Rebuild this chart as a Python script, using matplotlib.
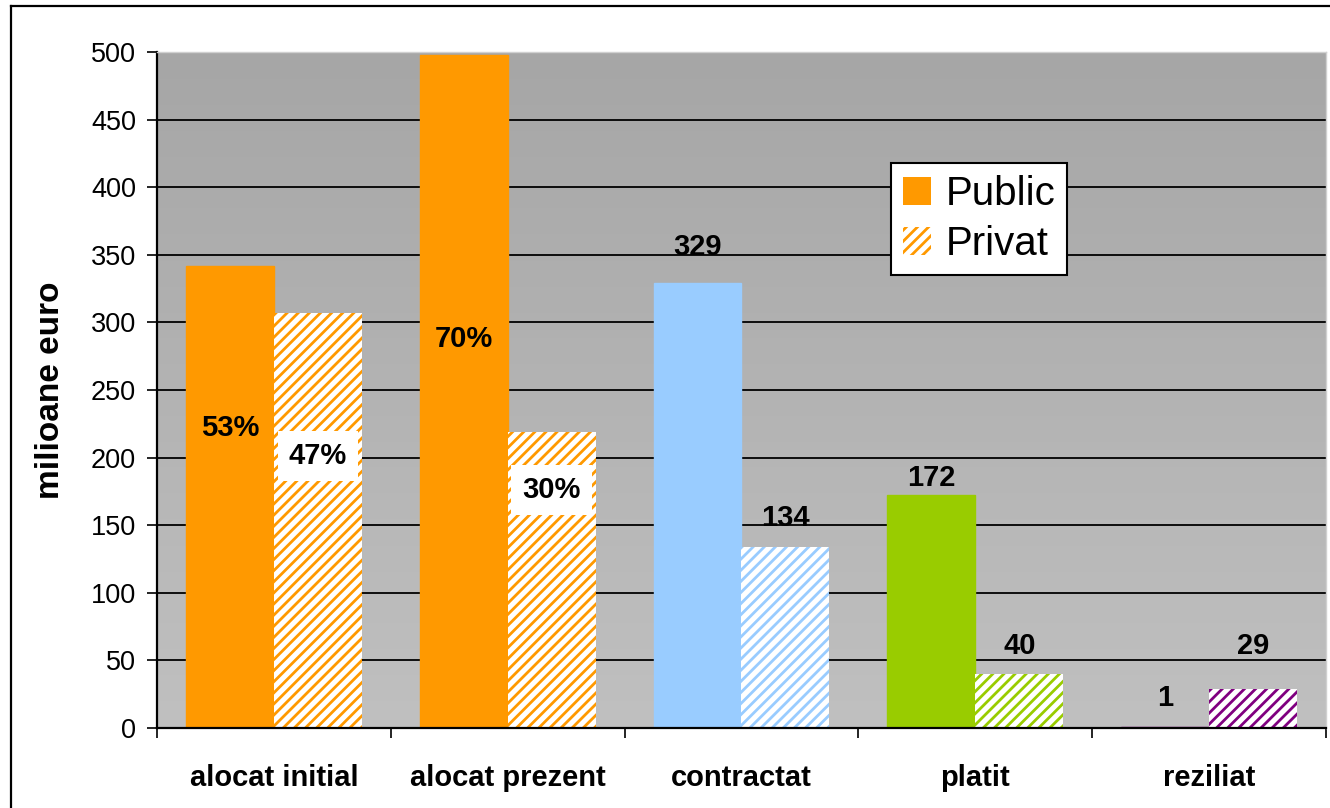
import matplotlib
matplotlib.use("Agg")
import matplotlib.pyplot as plt
from matplotlib.colors import LinearSegmentedColormap
from matplotlib.lines import Line2D
from matplotlib.patches import Patch
import numpy as np

# data
categories = ["alocat initial", "alocat prezent", "contractat", "platit", "reziliat"]
public_values = [342, 498, 329, 172, 1]
private_values = [307, 219, 134, 40, 29]
bar_colors = ["#FF9900", "#FF9900", "#99CCFF", "#99CC00", "#800080"]

# labels as printed on the chart
public_labels = ["53%", "70%", "329", "172", "1"]
private_labels = ["47%", "30%", "134", "40", "29"]

# where each label sits (data units)
public_label_y = [222, 288, 356, 185, 22]
private_label_y = [201, 176, 155, 61, 61]
private_label_boxed = [True, True, False, False, False]

plt.rcParams["font.family"] = ["Liberation Sans", "DejaVu Sans"]
plt.rcParams["hatch.linewidth"] = 2.0

fig = plt.figure(figsize=(13.3, 8.08), dpi=100)
ax = fig.add_axes([157 / 1330, 1 - 728 / 808, (1326 - 157) / 1330, (728 - 52) / 808])

x = np.arange(len(categories))
width = 0.376

# plot area gradient (lighter at the bottom)
grad = LinearSegmentedColormap.from_list("bg", ["#C0C0C0", "#A6A6A6"])
ax.imshow(np.linspace(0, 1, 256).reshape(-1, 1), cmap=grad, aspect="auto",
          extent=[-0.5, len(categories) - 0.5, 0, 500], origin="lower", zorder=0)

yticks = np.arange(0, 501, 50)
for t in yticks[1:-1]:
    ax.axhline(t, color="black", lw=1.3, zorder=1)

ax.bar(x - width / 2, public_values, width, color=bar_colors, edgecolor=bar_colors,
       linewidth=1.0, zorder=2)
ax.bar(x + width / 2, private_values, width, facecolor="white", edgecolor=bar_colors,
       linewidth=0, hatch="///", zorder=2)

for i in range(len(categories)):
    ax.text(x[i] - width / 2, public_label_y[i], public_labels[i], ha="center", va="center",
            fontsize=21, fontweight="bold", zorder=4)
    box = dict(facecolor="white", edgecolor="none", pad=8) if private_label_boxed[i] else None
    ax.text(x[i] + width / 2, private_label_y[i], private_labels[i], ha="center", va="center",
            fontsize=21, fontweight="bold", bbox=box, zorder=4)

ax.set_xlim(-0.5, len(categories) - 0.5)
ax.set_ylim(0, 500)
ax.set_yticks(yticks)
ax.tick_params(axis="y", direction="out", length=7, width=1.2, pad=8, labelsize=19.5)

ax.set_xticks(x)
ax.set_xticklabels(categories, fontsize=21, fontweight="bold")
ax.set_xticks(np.arange(-0.5, len(categories)), minor=True)
ax.tick_params(axis="x", which="major", length=0, pad=26)
ax.tick_params(axis="x", which="minor", direction="out", length=7, width=1.2)

ax.set_ylabel("milioane euro", fontsize=24, fontweight="bold")
ax.yaxis.set_label_coords(-0.078, 0.5)

for side in ["left", "bottom"]:
    ax.spines[side].set_color("black")
    ax.spines[side].set_linewidth(1.6)
for side in ["top", "right"]:
    ax.spines[side].set_color("#D0D0D0")
    ax.spines[side].set_linewidth(1.0)

handles = [Patch(facecolor="#FF9900", edgecolor="none", label="Public"),
           Patch(facecolor="white", edgecolor="#FF9900", linewidth=0, hatch="///", label="Privat")]
leg = ax.legend(handles=handles, loc="upper left", bbox_to_anchor=(0.628, 0.836),
                borderaxespad=0, fontsize=29, handlelength=0.7, handleheight=0.7,
                handletextpad=0.35, labelspacing=0.3, borderpad=0.3,
                fancybox=False, framealpha=1, edgecolor="black")
leg.get_frame().set_linewidth(1.5)
leg.set_zorder(5)

# outer chart frame (only left and top edges fall inside the picture)
fig.add_artist(Line2D([10.5 / 1330, 10.5 / 1330], [0, 1 - 6 / 808], transform=fig.transFigure,
                      color="black", lw=1.6))
fig.add_artist(Line2D([10.5 / 1330, 1], [1 - 6 / 808, 1 - 6 / 808], transform=fig.transFigure,
                      color="black", lw=1.6))

fig.savefig("out.png", dpi=100)
